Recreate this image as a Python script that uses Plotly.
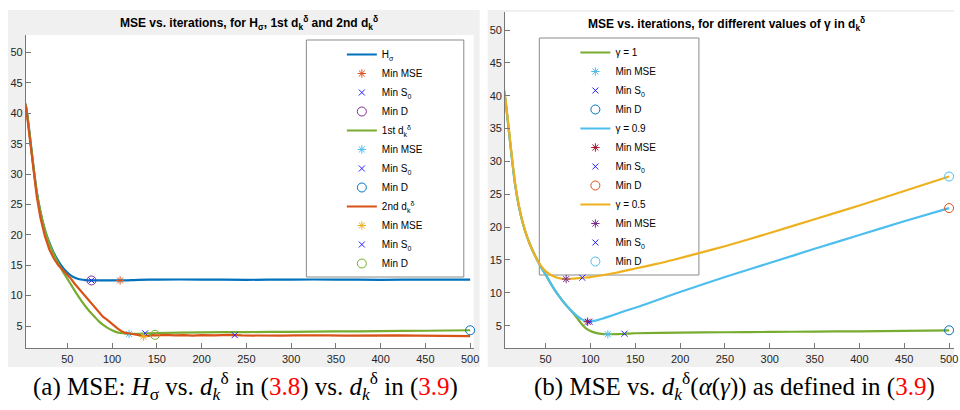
import plotly.graph_objects as go

# ---------------- data ----------------
# Left panel: MSE vs iterations for H_sigma, 1st d_k, 2nd d_k
h_x = [1, 4, 8, 12, 16, 20, 25, 30, 35, 40, 45, 50, 55, 60, 65, 70, 77, 90, 110, 130, 150, 200, 250, 300, 350, 400, 450, 500]
h_y = [42.5, 41.0, 36.5, 31.5, 27.0, 23.8, 20.8, 18.7, 17.0, 15.7, 14.6, 13.8, 13.2, 12.85, 12.65, 12.55, 12.5, 12.5, 12.5, 12.6, 12.65, 12.65, 12.6, 12.65, 12.65, 12.6, 12.65, 12.65]

d1_x = [1, 4, 8, 12, 16, 20, 25, 30, 35, 40, 45, 50, 55, 60, 65, 70, 75, 80, 85, 90, 95, 100, 105, 110, 115, 120, 130, 140, 150, 200, 250, 300, 350, 400, 450, 500]
d1_y = [42.5, 41.0, 36.5, 31.5, 27.0, 23.8, 20.8, 18.6, 16.8, 15.3, 14.0, 12.8, 11.6, 10.4, 9.3, 8.3, 7.4, 6.6, 5.8, 5.2, 4.7, 4.3, 4.0, 3.85, 3.75, 3.7, 3.72, 3.78, 3.85, 3.95, 4.0, 4.05, 4.1, 4.15, 4.22, 4.3]

d2_x = [1, 4, 8, 12, 16, 20, 25, 30, 35, 40, 45, 50, 54, 58, 62, 66, 70, 74, 78, 82, 86, 90, 94, 98, 102, 106, 110, 114, 118, 122, 126, 130, 135, 140, 145, 150, 160, 170, 180, 190, 200, 215, 230, 245, 260, 275, 290, 305, 320, 340, 360, 380, 400, 420, 440, 460, 480, 500]
d2_y = [42.5, 41.0, 36.0, 30.8, 26.2, 22.8, 19.8, 17.6, 16.1, 15.0, 14.2, 13.5, 12.8, 12.0, 11.3, 10.7, 9.9, 9.3, 8.6, 7.8, 7.2, 6.5, 6.1, 5.6, 5.0, 4.6, 4.2, 3.9, 3.8, 3.7, 3.65, 3.5, 3.25, 3.35, 3.5, 3.45, 3.55, 3.45, 3.5, 3.4, 3.5, 3.45, 3.55, 3.45, 3.4, 3.45, 3.4, 3.45, 3.4, 3.45, 3.4, 3.45, 3.4, 3.45, 3.4, 3.4, 3.35, 3.35]

# minima markers, left panel  [MSE, S0, D]
h_min_x = [109, 77, 77]
h_min_y = [12.5, 12.5, 12.5]
d1_min_x = [119, 137, 500]
d1_min_y = [3.7, 3.8, 4.3]
d2_min_x = [135, 237, 148]
d2_min_y = [3.25, 3.5, 3.55]

# Right panel: different gamma
g1_x = [1, 4, 8, 12, 16, 20, 25, 30, 35, 40, 45, 50, 55, 60, 65, 70, 75, 80, 85, 90, 95, 100, 105, 110, 115, 120, 130, 140, 150, 200, 250, 300, 350, 400, 450, 500]
g1_y = [42.0, 40.5, 36.0, 31.0, 26.5, 23.3, 20.4, 18.3, 16.6, 15.2, 13.9, 12.8, 11.6, 10.5, 9.5, 8.6, 7.8, 7.05, 6.2, 5.3, 4.6, 4.2, 3.95, 3.8, 3.73, 3.7, 3.72, 3.78, 3.85, 3.95, 4.0, 4.05, 4.1, 4.15, 4.22, 4.3]

g09_x = [1, 4, 8, 12, 16, 20, 25, 30, 35, 40, 45, 50, 55, 60, 65, 70, 75, 80, 85, 90, 95, 98, 102, 108, 115, 125, 140, 160, 195, 250, 306, 350, 400, 450, 500]
g09_y = [42.0, 40.5, 36.0, 31.0, 26.5, 23.3, 20.4, 18.3, 16.6, 15.2, 13.9, 12.8, 11.6, 10.5, 9.5, 8.6, 7.8, 7.1, 6.5, 6.0, 5.7, 5.6, 5.65, 5.85, 6.15, 6.6, 7.3, 8.2, 9.9, 12.4, 14.8, 16.7, 18.8, 20.9, 22.9]

g05_x = [1, 4, 8, 12, 16, 20, 25, 30, 35, 40, 45, 50, 55, 60, 65, 73, 80, 91, 100, 110, 130, 150, 170, 192, 220, 250, 300, 350, 400, 450, 500]
g05_y = [42.3, 40.8, 36.3, 31.3, 26.8, 23.5, 20.5, 18.3, 16.6, 15.2, 14.1, 13.3, 12.8, 12.45, 12.25, 12.1, 12.15, 12.3, 12.4, 12.6, 13.1, 13.7, 14.3, 15.0, 16.0, 17.1, 19.1, 21.2, 23.3, 25.5, 27.7]

g1_min_x = [119.5, 138, 500]
g1_min_y = [3.7, 3.78, 4.3]
g09_min_x = [97, 99, 500]
g09_min_y = [5.6, 5.6, 22.9]
g05_min_x = [73, 91, 500]
g05_min_y = [12.1, 12.3, 27.7]

x_ticks = [50, 100, 150, 200, 250, 300, 350, 400, 450, 500]
y_ticks = [5, 10, 15, 20, 25, 30, 35, 40, 45, 50]

# ---------------- styling ----------------
W, H = 960, 410
def fx(p):
    return p / W
def fy(p):
    return 1 - p / H

BLUE = "#0072BD"; ORANGE = "#D95319"; YELLOW = "#EDB120"; PURPLE = "#7E2F8E"
GREEN = "#77AC30"; CYAN = "#4DBEEE"; DRED = "#A2142F"; PUREBLUE = "#2020FF"
SANS = "Liberation Sans, Arial, sans-serif"
SERIF = "Liberation Serif, DejaVu Serif, serif"

fig = go.Figure()

def add_line(x, y, color, name, xa, ya, leg, shape="spline"):
    fig.add_trace(go.Scatter(x=x, y=y, mode="lines", name=name,
                             line=dict(color=color, width=2.2, shape=shape, smoothing=0.7),
                             xaxis=xa, yaxis=ya, legend=leg))

def add_mins(mx, my, cols, xa, ya, leg):
    syms = ["asterisk-open", "x-thin-open", "circle-open"]
    names = ["Min MSE", "Min S<sub>0</sub>", "Min D"]
    sizes = [7, 6, 9]
    for i in range(3):
        fig.add_trace(go.Scatter(x=[mx[i]], y=[my[i]], mode="markers", name=names[i],
                                 marker=dict(symbol=syms[i], size=sizes[i], color=cols[i],
                                             line=dict(color=cols[i], width=1)),
                                 xaxis=xa, yaxis=ya, legend=leg, cliponaxis=False))

# left panel
add_line(h_x, h_y, BLUE, "H<sub>σ</sub>", "x", "y", "legend")
add_mins(h_min_x, h_min_y, [ORANGE, PUREBLUE, PURPLE], "x", "y", "legend")
add_line(d1_x, d1_y, GREEN, "1st d<sub>k</sub><sup>δ</sup>", "x", "y", "legend")
add_mins(d1_min_x, d1_min_y, [CYAN, PUREBLUE, BLUE], "x", "y", "legend")
add_line(d2_x, d2_y, ORANGE, "2nd d<sub>k</sub><sup>δ</sup>", "x", "y", "legend", shape="linear")
add_mins(d2_min_x, d2_min_y, [YELLOW, PUREBLUE, GREEN], "x", "y", "legend")

# right panel
add_line(g1_x, g1_y, GREEN, "γ = 1", "x2", "y2", "legend2")
add_mins(g1_min_x, g1_min_y, [CYAN, PUREBLUE, BLUE], "x2", "y2", "legend2")
add_line(g09_x, g09_y, CYAN, "γ = 0.9", "x2", "y2", "legend2")
add_mins(g09_min_x, g09_min_y, [DRED, PUREBLUE, ORANGE], "x2", "y2", "legend2")
add_line(g05_x, g05_y, YELLOW, "γ = 0.5", "x2", "y2", "legend2")
add_mins(g05_min_x, g05_min_y, [PURPLE, PUREBLUE, CYAN], "x2", "y2", "legend2")

axis_common = dict(showline=True, linecolor="#777777", linewidth=1, ticks="inside",
                   ticklen=5, tickcolor="#777777", showgrid=False, zeroline=False,
                   tickfont=dict(family=SANS, size=11, color="#262626"), mirror=False)

fig.update_layout(
    width=W, height=H, margin=dict(l=0, r=0, t=0, b=0),
    paper_bgcolor="white", plot_bgcolor="white",
    xaxis=dict(domain=[fx(26), fx(476.7)], range=[3.7, 504.0], tickvals=x_ticks, anchor="y", **axis_common),
    yaxis=dict(domain=[fy(348.3), fy(35)], range=[1.33, 52.9], tickvals=y_ticks, anchor="x", **axis_common),
    xaxis2=dict(domain=[fx(508.3), 1.0], range=[4.9, 505.5], tickvals=x_ticks, anchor="y2",
                ticklabeloverflow="allow", **axis_common),
    yaxis2=dict(domain=[fy(348.3), fy(12)], range=[1.56, 52.74], tickvals=y_ticks, anchor="x2", **axis_common),
    legend=dict(x=fx(344), y=fy(40), xanchor="left", yanchor="top", bgcolor="rgba(0,0,0,0)",
                borderwidth=0, font=dict(family=SANS, size=10, color="#000")),
    legend2=dict(x=fx(579), y=fy(38), xanchor="left", yanchor="top", bgcolor="rgba(0,0,0,0)",
                 borderwidth=0, font=dict(family=SANS, size=10, color="#000")),
    showlegend=True,
)

shapes = [
    dict(type="rect", xref="paper", yref="paper", x0=fx(8), x1=fx(482.7), y0=fy(367), y1=fy(10),
         fillcolor="#f0f0f0", line=dict(width=0), layer="below"),
    dict(type="rect", xref="paper", yref="paper", x0=fx(490.7), x1=1.0, y0=fy(367), y1=fy(10),
         fillcolor="#f0f0f0", line=dict(width=0), layer="below"),
    dict(type="rect", xref="x domain", yref="y domain", x0=0, x1=1, y0=0, y1=1,
         fillcolor="white", line=dict(width=0), layer="below"),
    dict(type="rect", xref="x2 domain", yref="y2 domain", x0=0, x1=1, y0=0, y1=1,
         fillcolor="white", line=dict(width=0), layer="below"),
    # legend boxes (under the curves so lines stay visible)
    dict(type="rect", xref="paper", yref="paper", x0=fx(308.3), x1=fx(466.7), y0=fy(277), y1=fy(40),
         fillcolor="white", line=dict(width=1, color="#8a8a8a"), layer="below"),
    dict(type="rect", xref="paper", yref="paper", x0=fx(542.7), x1=fx(703.3), y0=fy(275), y1=fy(38),
         fillcolor="white", line=dict(width=1, color="#8a8a8a"), layer="below"),
]
fig.update_layout(shapes=shapes)

annotations = [
    dict(text="<b>MSE vs. iterations, for H<sub>σ</sub>, 1st d<sub>k</sub><sup>δ</sup> and 2nd d<sub>k</sub><sup>δ</sup></b>",
         x=fx(251), y=fy(23), xref="paper", yref="paper", showarrow=False, xanchor="center", yanchor="middle",
         font=dict(family=SANS, size=12, color="#000")),
    dict(text="<b>MSE vs. iterations, for different values of γ in d<sub>k</sub><sup>δ</sup></b>",
         x=fx(731), y=fy(24), xref="paper", yref="paper", showarrow=False, xanchor="center", yanchor="middle",
         font=dict(family=SANS, size=12, color="#000")),
    dict(text="(a) MSE: <i>H</i><sub>σ</sub> vs. <i>d</i><sub><i>k</i></sub><sup>δ</sup> in (<span style='color:#ff0000'>3.8</span>) vs. <i>d</i><sub><i>k</i></sub><sup>δ</sup> in (<span style='color:#ff0000'>3.9</span>)",
         x=fx(247), y=fy(386), xref="paper", yref="paper", showarrow=False, xanchor="center", yanchor="middle",
         font=dict(family=SERIF, size=25, color="#000")),
    dict(text="(b) MSE vs. <i>d</i><sub><i>k</i></sub><sup>δ</sup>(<i>α</i>(<i>γ</i>)) as defined in (<span style='color:#ff0000'>3.9</span>)",
         x=fx(739), y=fy(386), xref="paper", yref="paper", showarrow=False, xanchor="center", yanchor="middle",
         font=dict(family=SERIF, size=25, color="#000")),
]
fig.update_layout(annotations=annotations)

fig.write_html("out.html", config={"displayModeBar": False},
               post_script="document.body.style.margin='0';document.body.style.padding='0';")
